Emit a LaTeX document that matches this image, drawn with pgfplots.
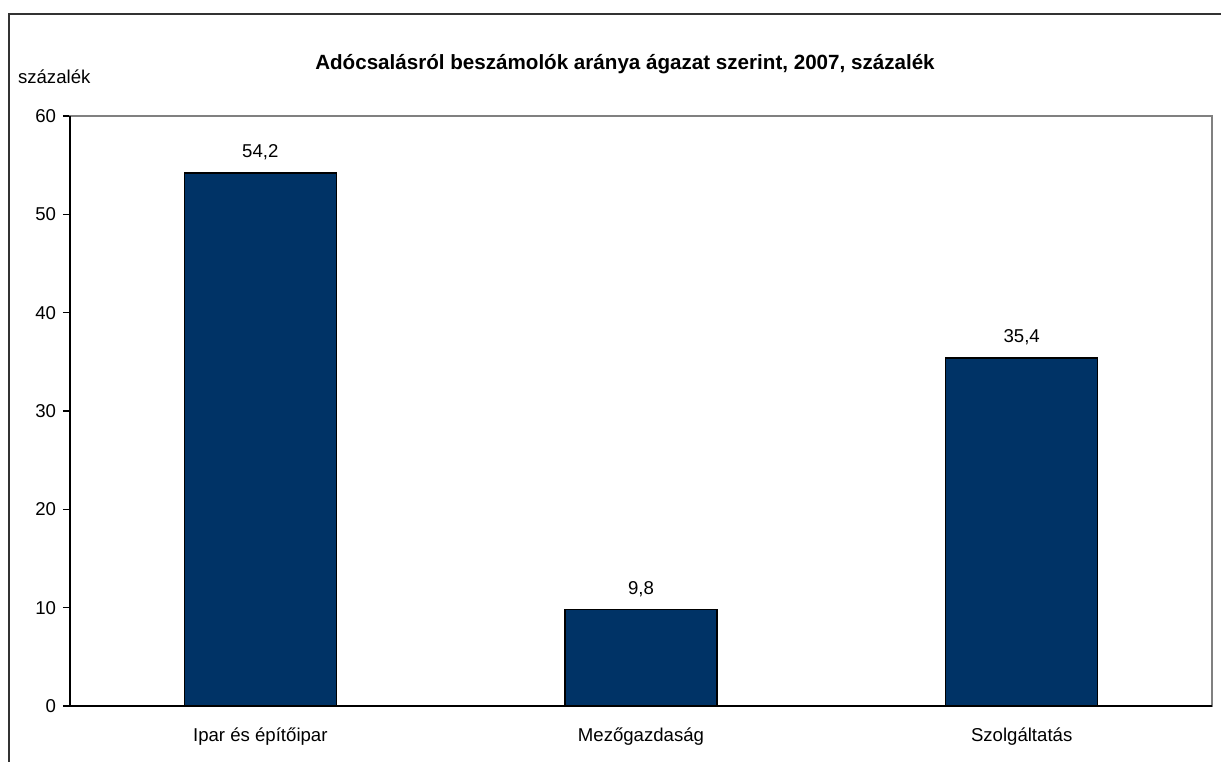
\documentclass[border=0pt]{standalone}
\usepackage{pgfplots}
\pgfplotsset{compat=1.18}
\usepackage{fontspec}
\setmainfont{Liberation Sans}
\definecolor{barblue}{RGB}{0,51,102}
\begin{document}
\begin{tikzpicture}
\useasboundingbox (0,0) rectangle (610.5bp,381bp);
\draw[line width=0.8bp, black!80] (4.5bp,0) -- (4.5bp,374bp) -- (612bp,374bp);
\node[font=\fontsize{10.3bp}{12bp}\selectfont\bfseries] at (312.5bp,349bp) {Adócsalásról beszámolók aránya ágazat szerint, 2007, százalék};
\node[font=\fontsize{9.3bp}{11bp}\selectfont, anchor=west] at (5.5bp,342.5bp) {százalék};
\begin{axis}[
  at={(35bp,28bp)}, anchor=south west,
  width=571bp, height=295bp, scale only axis,
  xmin=-0.5, xmax=2.5, ymin=0, ymax=60,
  ytick={0,10,...,60},
  xtick={0,1,2},
  xticklabels={Ipar és építőipar, Mezőgazdaság, Szolgáltatás},
  x tick style={draw=none},
  extra x ticks={-0.5,0.5,1.5,2.5},
  extra x tick labels={},
  extra x tick style={tick style={draw=black, line width=0.6bp}, major tick length=3.5bp, tick align=outside},
  y tick style={draw=black, line width=0.6bp},
  major tick length=3.5bp,
  tick align=outside,
  tick pos=left,
  axis line style={draw=gray, line width=0.8bp},
  ticklabel style={font=\fontsize{9.3bp}{11bp}\selectfont},
  /pgf/number format/assume math mode=true,
  xticklabel style={yshift=-4bp},
  ybar, bar width=76bp,
  nodes near coords,
  every node near coord/.append style={font=\fontsize{9.3bp}{11bp}\selectfont, yshift=3bp},
  nodes near coords style={/pgf/number format/.cd, use comma, fixed, fixed zerofill, precision=1, assume math mode=true},
  clip=false,
]
\addplot[fill=barblue, draw=black, line width=0.6bp] coordinates {(0,54.2) (1,9.8) (2,35.4)};
\draw[black, line width=0.8bp] (rel axis cs:0,1) -- (rel axis cs:0,0) -- (rel axis cs:1,0);
\end{axis}
\end{tikzpicture}
\end{document}
